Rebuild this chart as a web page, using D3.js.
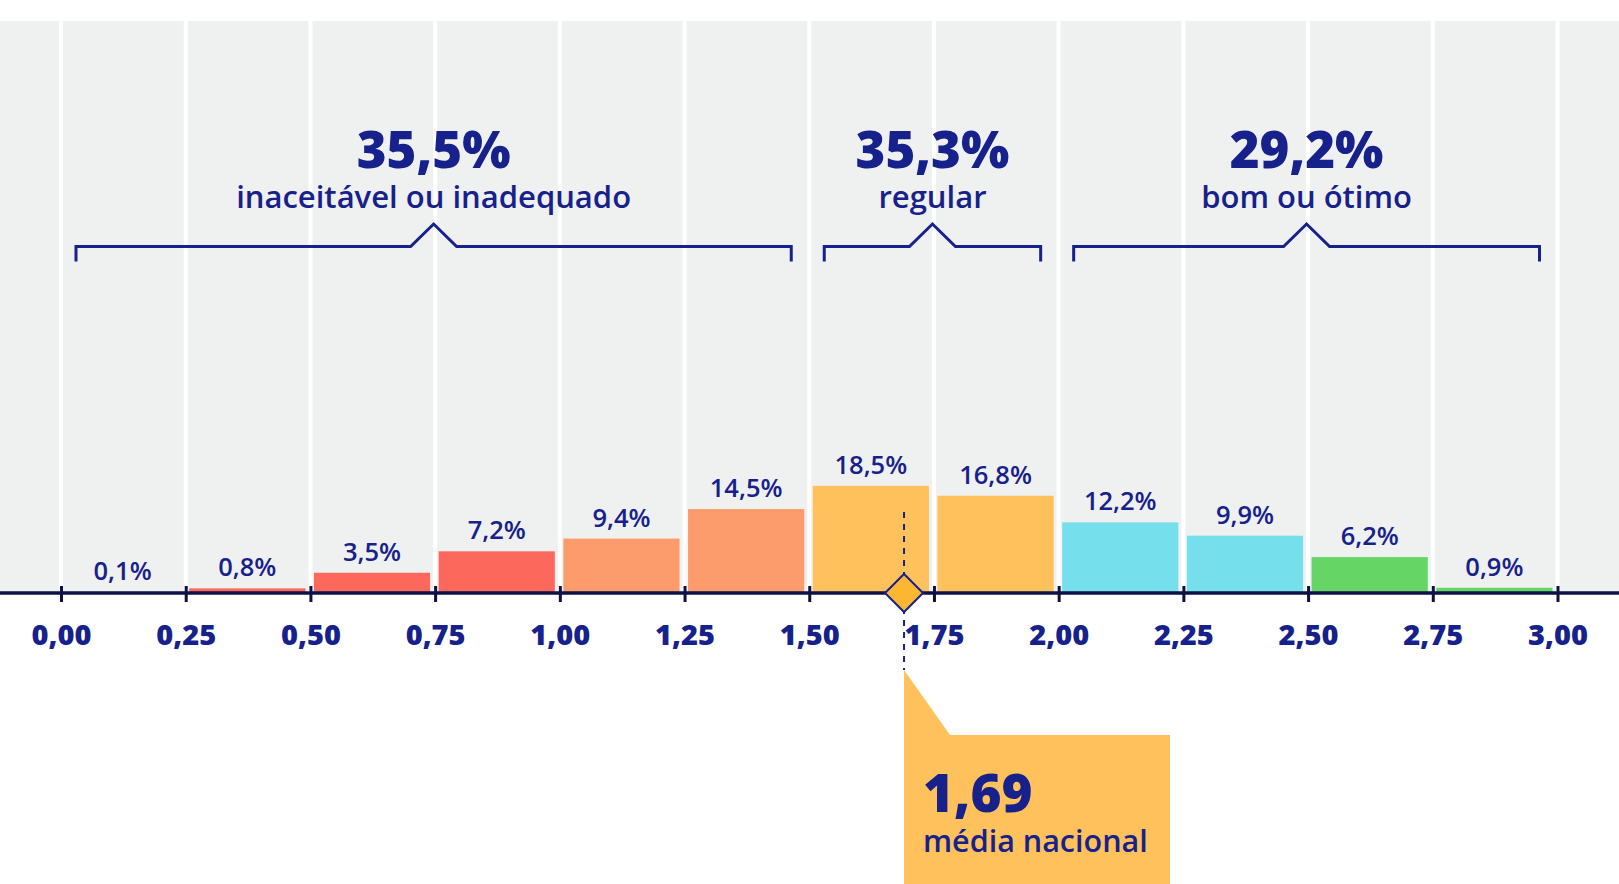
<!DOCTYPE html>
<html><head><meta charset="utf-8">
<script src="https://cdn.jsdelivr.net/npm/d3@7"></script>
<style>
html,body{margin:0;padding:0;background:#fff;}
svg{display:block;font-family:"Open Sans","Noto Sans",sans-serif;}
</style></head>
<body>
<svg id="chart" width="1619" height="884"></svg>
<script>
// ---- data ----
const tickValues = [0,0.25,0.5,0.75,1,1.25,1.5,1.75,2,2.25,2.5,2.75,3];
const binStarts = [0,0.25,0.5,0.75,1,1.25,1.5,1.75,2,2.25,2.5,2.75];
const binShares = [0.1,0.8,3.5,7.2,9.4,14.5,18.5,16.8,12.2,9.9,6.2,0.9];
const binLevel = ["inad","inad","inad","inad","baixo","baixo","regular","regular","bom","bom","otimo","otimo"];
const groupLabels = ["inaceitável ou inadequado","regular","bom ou ótimo"];
const groupTotals = [35.5,35.3,29.2];
const groupRanges = [[0,1.5],[1.5,2],[2,3]];
const meanValue = 1.69;
const meanLabel = "média nacional";

// ---- setup ----
const W = 1619, H = 884;
const svg = d3.select("#chart");
const navy = "#17218b", axisCol = "#0c1146";
const colors = {inad:"#fc685c", baixo:"#fc9b6b", regular:"#fec15b", bom:"#75dfeb", otimo:"#65d566"};
const loc = d3.formatLocale({decimal:",", thousands:".", grouping:[3], currency:["R$",""]});
const f2 = loc.format(".2f"), f1 = loc.format(".1f");
const fontFam = "'Open Sans','Noto Sans',sans-serif";

const x = d3.scaleLinear().domain([0,3]).range([61,1557.5]);
const y = d3.scaleLinear().domain([0,100]).range([593,593-579]);
const plotTop = 21;

// background
svg.append("rect").attr("x",0).attr("y",plotTop).attr("width",W).attr("height",y(0)-plotTop).attr("fill","#eff0f0");
// gridlines
svg.append("g").selectAll("line").data(tickValues).join("line")
  .attr("x1",d=>x(d)).attr("x2",d=>x(d)).attr("y1",plotTop).attr("y2",y(0))
  .attr("stroke","#fff").attr("stroke-width",4);

// bars
const step = 0.25;
svg.append("g").selectAll("rect").data(binStarts).join("rect")
  .attr("x",d=>x(d)+3.5)
  .attr("width",d=>x(d+step)-x(d)-8.5)
  .attr("y",(d,i)=>y(binShares[i]))
  .attr("height",(d,i)=>y(0)-y(binShares[i]))
  .attr("fill",(d,i)=>colors[binLevel[i]]);

// bar labels
svg.append("g").selectAll("text").data(binStarts).join("text")
  .attr("x",d=>(x(d)+3.5+x(d+step)-5)/2)
  .attr("y",(d,i)=>y(binShares[i])-12)
  .attr("text-anchor","middle")
  .attr("font-size",25.5).attr("font-weight",600).attr("fill",navy)
  .text((d,i)=>f1(binShares[i])+"%");

// braces + group headers
const gGroups = svg.append("g");
groupRanges.forEach((r,i)=>{
  const x0 = x(r[0])+15, x1 = x(r[1])-18, cx=(x0+x1)/2;
  const yb = 246.5, yEnd = 261.5, apexY = 224, hw = 23;
  gGroups.append("path")
    .attr("d",`M${x0},${yEnd}V${yb}H${cx-hw}L${cx},${apexY}L${cx+hw},${yb}H${x1}V${yEnd}`)
    .attr("fill","none").attr("stroke",navy).attr("stroke-width",3);
  const t = gGroups.append("text").attr("text-anchor","middle").attr("fill",navy);
  t.append("tspan").attr("x",cx).attr("y",168)
    .attr("font-size",51).attr("font-weight",800)
    .text(f1(groupTotals[i])+"%");
  t.append("tspan").attr("x",cx).attr("y",208)
    .attr("font-size",31).attr("font-weight",600)
    .text(groupLabels[i]);
});

// axis
svg.append("line").attr("x1",0).attr("x2",W).attr("y1",y(0)).attr("y2",y(0))
  .attr("stroke",axisCol).attr("stroke-width",3.5);
const axis = d3.axisBottom(x).tickValues(tickValues).tickFormat(f2).tickSize(0).tickPadding(0);
const gAxis = svg.append("g").attr("transform",`translate(0,${y(0)})`).call(axis);
gAxis.select(".domain").remove();
gAxis.selectAll(".tick line").attr("y1",-7).attr("y2",9).attr("stroke",axisCol).attr("stroke-width",3);
gAxis.selectAll(".tick text").attr("y",51.5).attr("dy",null)
  .attr("font-family",fontFam)
  .attr("font-size",29).attr("font-weight",800).attr("fill",navy);

// mean callout
const mx = x(meanValue);
svg.append("path")
  .attr("d",`M${mx},670L${mx+46},735H1170V${H}H${mx}Z`)
  .attr("fill","#fec15b");
svg.append("line").attr("x1",mx).attr("x2",mx).attr("y1",512).attr("y2",670)
  .attr("stroke",navy).attr("stroke-width",2).attr("stroke-dasharray","6,6");
svg.append("path")
  .attr("d",`M${mx},${y(0)-19}L${mx+19},${y(0)}L${mx},${y(0)+19}L${mx-19},${y(0)}Z`)
  .attr("fill","#fbb731").attr("stroke",navy).attr("stroke-width",2);
const mt = svg.append("text").attr("fill",navy);
mt.append("tspan").attr("x",mx+19).attr("y",812)
  .attr("font-size",53).attr("font-weight",800)
  .text(loc.format(".2f")(meanValue));
mt.append("tspan").attr("x",mx+19).attr("y",852)
  .attr("font-size",30.5).attr("font-weight",600)
  .text(meanLabel);
</script>
</body></html>
